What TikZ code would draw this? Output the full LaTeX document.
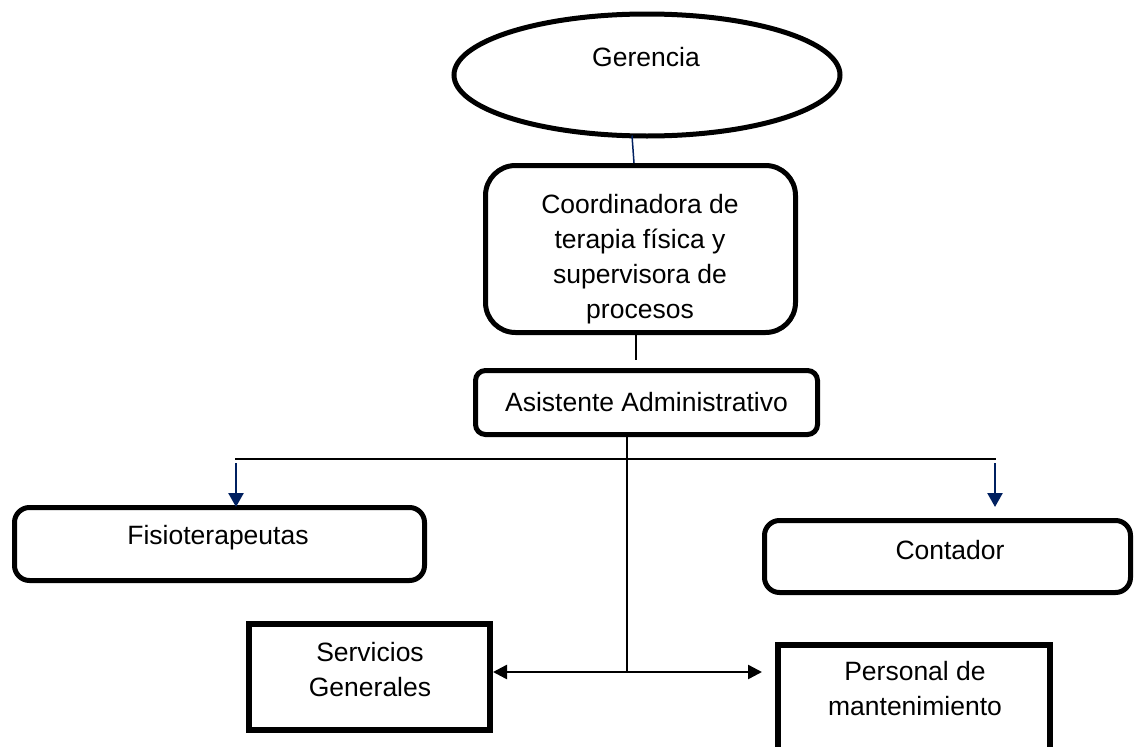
\documentclass[tikz,border=0pt]{standalone}
\usepackage{fontspec}
\setmainfont{Liberation Sans}
\usetikzlibrary{shapes.geometric,arrows.meta,calc}
\definecolor{navy}{RGB}{0,32,96}
\begin{document}
\begin{tikzpicture}[x=1pt,y=-1pt,
  every node/.style={font=\fontsize{26.5}{35}\selectfont, align=center},
  rbox/.style={draw, line width=5pt, rounded corners=#1, inner sep=0pt},
  sbox/.style={draw, line width=6pt, inner sep=0pt},
  conn/.style={line width=2pt, black},
  navyarrow/.style={line width=2.5pt, navy, -{Triangle[width=15pt,length=14pt]}},
  dblarrow/.style={line width=2.5pt, black, {Triangle[width=14pt,length=14pt]}-{Triangle[width=14pt,length=14pt]}}]
\useasboundingbox (0,0) rectangle (1136,747);
\clip (0,0) rectangle (1136,747);
\fill[white] (0,0) rectangle (1136,747);
% nodes
\node[draw, ellipse, line width=5pt, minimum width=386pt, minimum height=122pt, inner sep=0pt] (ger) at (647,75) {};
\node (gertxt) at (646,57) {Gerencia};
\node[rbox=30pt, minimum width=310pt, minimum height=167pt] (coord) at (640.5,249) {};
\node (coordtxt) at (640,259) {Coordinadora de\\terapia física y\\supervisora de\\procesos};
\node[rbox=10pt, minimum width=342pt, minimum height=64pt] (asist) at (646.5,402.5) {Asistente Administrativo};
\node[rbox=15pt, minimum width=410pt, minimum height=73pt] (fisio) at (219.5,544) {};
\node (fisiotxt) at (218,538) {Fisioterapeutas};
\node[rbox=15pt, minimum width=366pt, minimum height=72pt] (cont) at (947.5,556.5) {};
\node (conttxt) at (950,550) {Contador};
\node[sbox, minimum width=241pt, minimum height=106pt] (serv) at (369.5,677) {};
\node (servtxt) at (370,670) {Servicios\\Generales};
\node[sbox, minimum width=272pt, minimum height=140pt] (pers) at (914,715) {};
\node (perstxt) at (915,689) {Personal de\\mantenimiento};
% connectors
\coordinate (gerbot) at ($(ger.south)+(-15,-3)$);
\draw[line width=1.5pt, navy] (gerbot) -- (634,163) coordinate (coordtop);
\coordinate (coordbot) at ($(coord.south)+(-4.5,0)$);
\coordinate (asistgap) at (636,360);
\draw[line width=2pt] (coordbot) -- (asistgap);
\coordinate (asistbot) at ($(asist.south -| 627,0)$);
\coordinate (junc) at (627,672);
\draw[conn] (asistbot) -- (junc);
\coordinate (hleft) at (235,459);
\coordinate (hright) at (996,459);
\draw[conn] (hleft) -- (hright);
\draw[navyarrow] (236,463) -- (236,507);
\coordinate (contarrow) at (995,507);
\draw[navyarrow] (995,463) -- (contarrow);
\coordinate (persgap) at (762,672);
\draw[dblarrow] (serv.east |- junc) -- (persgap);
\end{tikzpicture}
\end{document}
